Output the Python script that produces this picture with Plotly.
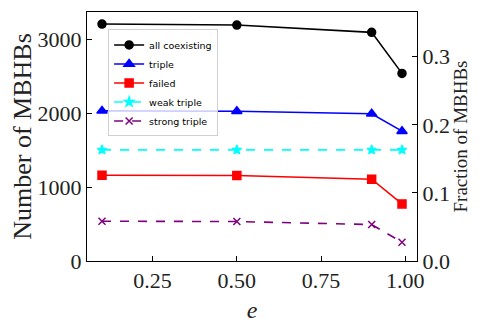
import plotly.graph_objects as go

e_vals = [0.1, 0.5, 0.9, 0.99]
all_coexisting = [3212, 3198, 3099, 2543]
triple = [2035, 2030, 1995, 1760]
failed = [1163, 1159, 1109, 774]
weak_triple = [1506, 1506, 1506, 1506]
strong_triple = [539, 535, 494, 254]

y_left_ticks = [0, 1000, 2000, 3000]
y_right_ticks = [0.0, 0.1, 0.2, 0.3]
x_ticks = [0.25, 0.50, 0.75, 1.00]

SERIF = "Liberation Serif"
SANS = "DejaVu Sans"

series = [
    ("all coexisting", all_coexisting, "black", "circle", "solid", 8),
    ("triple", triple, "blue", "triangle-up", "solid", 9),
    ("failed", failed, "red", "square", "solid", 8),
    ("weak triple", weak_triple, "cyan", "star", "dash", 7),
    ("strong triple", strong_triple, "purple", "x-thin", "dash", 7),
]

fig = go.Figure()
for name, vals, color, sym, dash, size in series:
    fig.add_trace(go.Scatter(
        x=e_vals, y=vals, name=name, mode="lines+markers",
        line=dict(color=color, width=1.6, dash=dash),
        marker=dict(color=color, symbol=sym, size=size,
                    line=dict(color=color, width=1.5)),
    ))

# invisible trace so the right axis is drawn
fig.add_trace(go.Scatter(x=e_vals, y=[0.3 for _ in e_vals], yaxis="y2",
                         mode="lines", line=dict(width=0), opacity=0,
                         showlegend=False, hoverinfo="skip"))

axis_common = dict(
    showgrid=False, zeroline=False, ticks="inside", ticklen=5, tickwidth=1,
    tickcolor="black", linecolor="black", linewidth=1, showline=True,
    automargin=False,
    tickfont=dict(family=SERIF, size=22, color="#222"),
)

# page body has an 8px margin, so the figure is a bit smaller and shifted
fig.update_layout(
    width=477, height=315,
    margin=dict(l=79, r=68, t=4, b=62),
    paper_bgcolor="white", plot_bgcolor="white",
    xaxis=dict(range=[0.0555, 1.0345], tickvals=x_ticks, tickformat=".2f",
               mirror=True,
               title=dict(text="<i>e</i>", font=dict(family=SERIF, size=24, color="#222"),
                          standoff=8),
               **axis_common),
    yaxis=dict(range=[0, 3375], tickvals=y_left_ticks,
               title=dict(text="Number of MBHBs", font=dict(family=SERIF, size=26, color="#222"),
                          standoff=4),
               **axis_common),
    yaxis2=dict(range=[0, 0.3657], tickvals=y_right_ticks, tickformat=".1f",
                overlaying="y", side="right",
                title=dict(text="Fraction of MBHBs", font=dict(family=SERIF, size=19, color="#222"),
                           standoff=4),
                **axis_common),
    legend=dict(x=0.064, y=0.93, xanchor="left", yanchor="top",
                bgcolor="rgba(255,255,255,0.8)", bordercolor="#d0d0d0", borderwidth=1,
                font=dict(family=SANS, size=9.5, color="black"),
                tracegroupgap=0, itemwidth=30),
    showlegend=True,
)

fig.write_html("out.html")
